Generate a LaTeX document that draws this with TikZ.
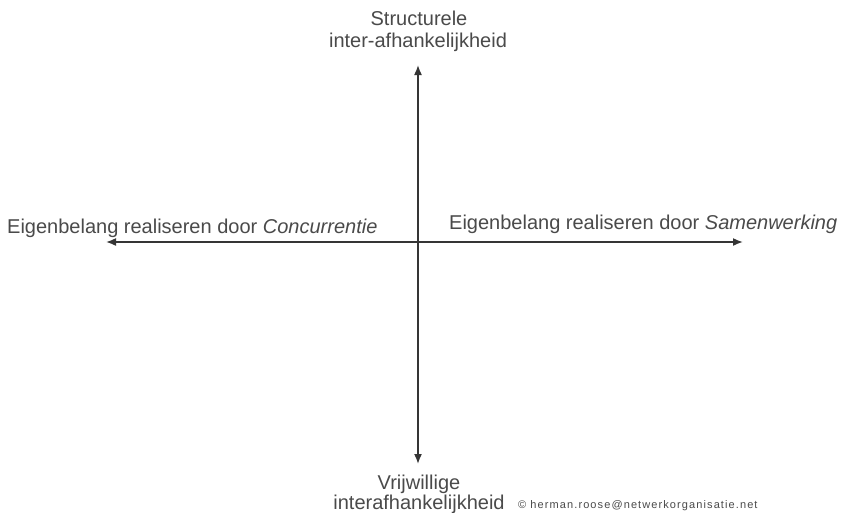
\documentclass[tikz,border=0pt]{standalone}
\usepackage{fontspec}
\setmainfont{Liberation Sans}
\usetikzlibrary{arrows.meta}
\definecolor{txt}{HTML}{4A4A4A}
\definecolor{ln}{HTML}{353535}
\tikzset{
  axis/.style={draw=ln, line width=1.6pt, {Latex[length=10pt,width=8pt]}-{Latex[length=10pt,width=8pt]}},
  lbl/.style={text=txt, font=\fontsize{20}{22}\selectfont, inner sep=0pt},
  small/.style={text=txt, font=\fontsize{11}{12}\selectfont, inner sep=0pt}
}
\begin{document}
\begin{tikzpicture}[x=1pt,y=-1pt]
\useasboundingbox[fill=white] (0,0) rectangle (843,512);
\coordinate (L) at (106,242);
\coordinate (R) at (743,242);
\coordinate (T) at (418,65);
\coordinate (B) at (418,464);
\draw[axis] (L) -- (R);
\draw[axis] (T) -- (B);
\node[lbl, anchor=base] (t1) at (419,25) {Structurele};
\node[lbl, anchor=base] (t2) at (418,47) {inter-afhankelijkheid};
\node[lbl, anchor=base west] (lt) at (7,233) {Eigenbelang realiseren door \textit{Concurrentie}};
\node[lbl, anchor=base west] (rt) at (449,229) {Eigenbelang realiseren door \textit{Samenwerking}};
\node[lbl, anchor=base] (b1) at (419,489) {Vrijwillige};
\node[lbl, anchor=base] (b2) at (419,509) {interafhankelijkheid};
\node[small, anchor=base west] (c) at (518,508) {\addfontfeatures{LetterSpace=10}© herman.roose@netwerkorganisatie.net};
\end{tikzpicture}
\end{document}
